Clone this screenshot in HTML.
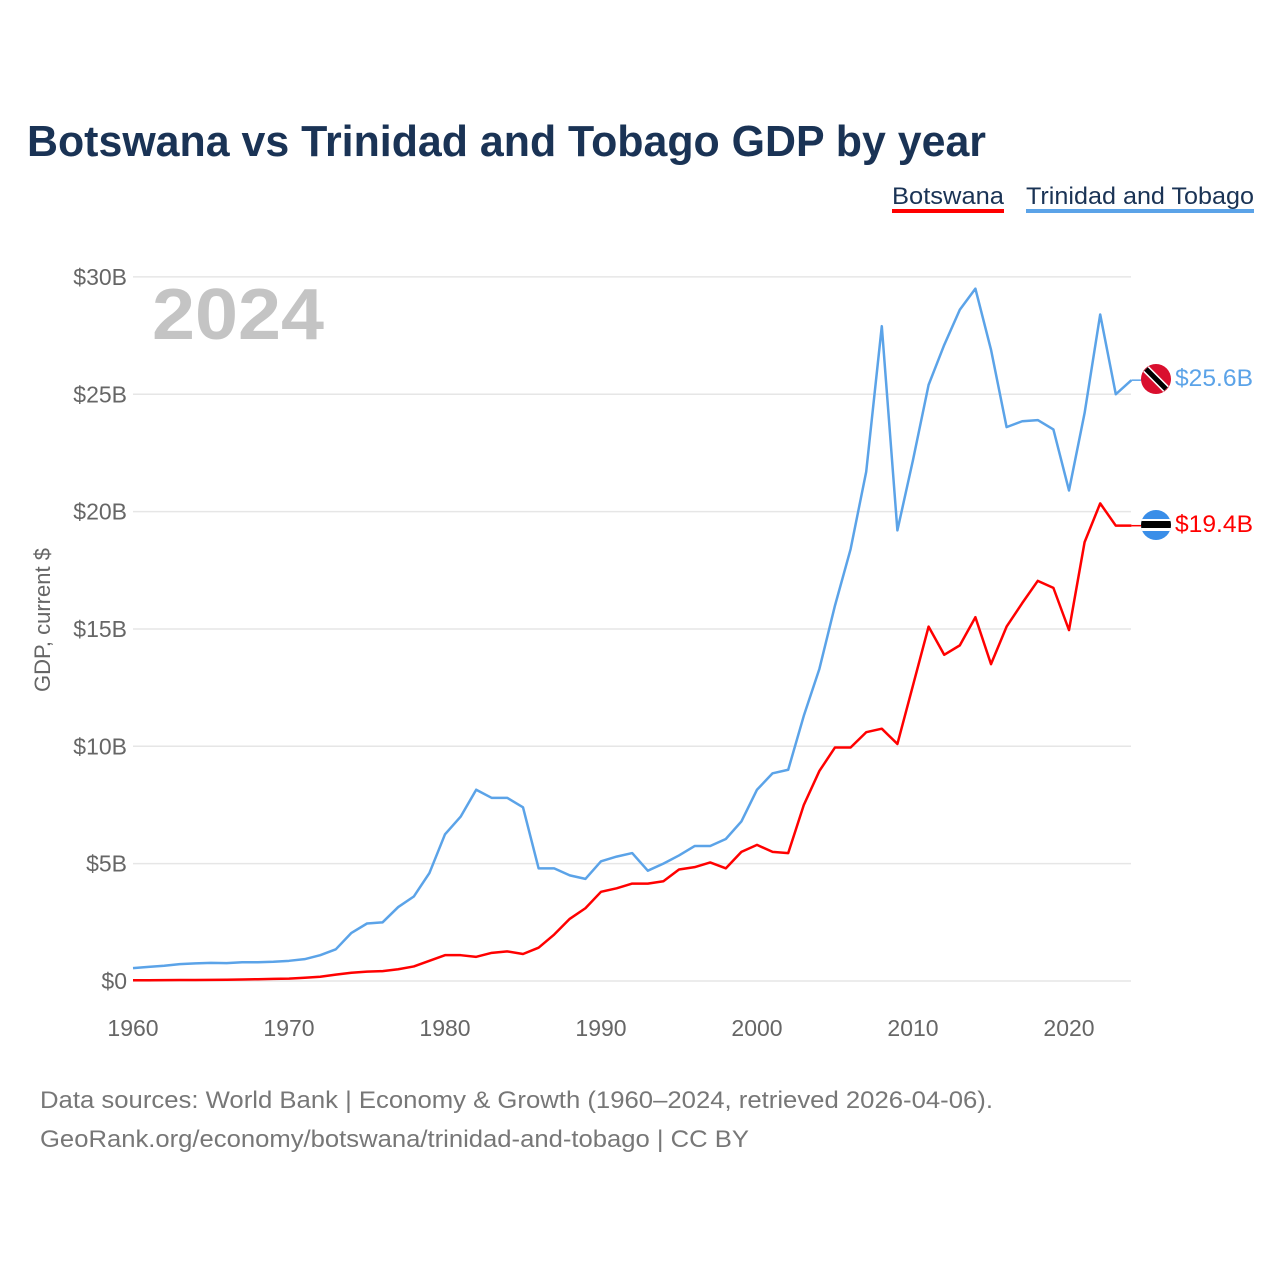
<!DOCTYPE html>
<html><head><meta charset="utf-8"><style>
body{margin:0;background:#fff;font-family:"Liberation Sans",sans-serif}
</style></head><body>
<svg width="1280" height="1280" viewBox="0 0 1280 1280" font-family="Liberation Sans, sans-serif">
<rect width="1280" height="1280" fill="#fff"/>
<text x="27" y="156" font-size="44" font-weight="bold" fill="#1a3355" textLength="959" lengthAdjust="spacingAndGlyphs">Botswana vs Trinidad and Tobago GDP by year</text>
<g>
<text x="892" y="204" font-size="24" fill="#1a3355" textLength="112" lengthAdjust="spacingAndGlyphs">Botswana</text>
<rect x="892" y="209" width="112" height="4" fill="#ff0000"/>
<text x="1026" y="204" font-size="24" fill="#1a3355" textLength="228" lengthAdjust="spacingAndGlyphs">Trinidad and Tobago</text>
<rect x="1026" y="209" width="228" height="4" fill="#5ba3e8"/>
</g>
<text x="152" y="339" font-size="72" font-weight="bold" fill="#c4c4c4" textLength="172" lengthAdjust="spacingAndGlyphs">2024</text>
<text transform="translate(50,620) rotate(-90)" text-anchor="middle" font-size="22" fill="#666">GDP, current $</text>
<g id="grid"></g><g id="xt"></g>
<g id="lines"></g>
<g>
<circle cx="1156" cy="379" r="15" fill="#d90f2e"/>
<line x1="1146" y1="369" x2="1166" y2="389" stroke="#fff" stroke-width="8"/>
<line x1="1146" y1="369" x2="1166" y2="389" stroke="#000" stroke-width="5"/>
<text x="1175" y="386" font-size="24" fill="#5ba3e8" textLength="78" lengthAdjust="spacingAndGlyphs">$25.6B</text>
<clipPath id="bc"><circle cx="1156" cy="525" r="15"/></clipPath>
<g clip-path="url(#bc)"><rect x="1140" y="509" width="32" height="32" fill="#3a8ee8"/><rect x="1140" y="519" width="32" height="12" fill="#fff"/><rect x="1140" y="521" width="32" height="7" fill="#000"/></g>
<text x="1175" y="532" font-size="24" fill="#ff0000" textLength="78" lengthAdjust="spacingAndGlyphs">$19.4B</text>
</g>
<text x="40" y="1108" font-size="24" fill="#777" textLength="953" lengthAdjust="spacingAndGlyphs">Data sources: World Bank | Economy &amp; Growth (1960–2024, retrieved 2026-04-06).</text>
<text x="40" y="1147" font-size="24" fill="#777" textLength="709" lengthAdjust="spacingAndGlyphs">GeoRank.org/economy/botswana/trinidad-and-tobago | CC BY</text>
</svg>
<script>
const years=[];for(let y=1960;y<=2024;y++)years.push(y);
const trinidad=[0.55,0.6,0.65,0.72,0.75,0.77,0.76,0.8,0.8,0.82,0.86,0.93,1.1,1.35,2.05,2.45,2.5,3.15,3.6,4.6,6.25,7.0,8.15,7.8,7.8,7.4,4.8,4.8,4.5,4.35,5.1,5.3,5.45,4.7,5.0,5.35,5.75,5.75,6.05,6.8,8.15,8.85,9.0,11.3,13.3,16.0,18.4,21.7,27.9,19.2,22.2,25.4,27.1,28.6,29.5,26.9,23.6,23.85,23.9,23.5,20.9,24.2,28.4,25.0,25.6];
const botswana=[0.03,0.03,0.035,0.04,0.04,0.05,0.055,0.065,0.075,0.09,0.1,0.14,0.18,0.27,0.35,0.4,0.42,0.5,0.62,0.86,1.1,1.1,1.03,1.2,1.26,1.15,1.42,1.98,2.65,3.1,3.8,3.95,4.15,4.15,4.25,4.75,4.85,5.05,4.8,5.5,5.8,5.5,5.45,7.5,8.95,9.95,9.95,10.6,10.75,10.1,12.6,15.1,13.9,14.3,15.5,13.5,15.1,16.1,17.05,16.75,14.95,18.7,20.35,19.4,19.4];
const yTicks=[0,5,10,15,20,25,30];
const yTickLabels=["$0","$5B","$10B","$15B","$20B","$25B","$30B"];
const xTicks=[1960,1970,1980,1990,2000,2010,2020];
const NS="http://www.w3.org/2000/svg";
const X=y=>133+(y-1960)*15.6, Y=v=>981-v*23.47;
function mk(t,a,p){const e=document.createElementNS(NS,t);for(const k in a)e.setAttribute(k,a[k]);p.appendChild(e);return e;}
const g=document.getElementById('grid');
yTicks.forEach((v,i)=>{
 const l=mk('line',{x1:133,x2:1131,y1:Y(v),y2:Y(v),stroke:'#e6e6e6','stroke-width':1.5},g);
 
 
 const t=mk('text',{x:127,y:Y(v)+8,'text-anchor':'end','font-size':23,fill:'#666'},g);
 t.textContent=yTickLabels[i];
 
 
});
const xt=document.getElementById('xt');
xTicks.forEach(y=>{
 const t=mk('text',{x:X(y),y:1036,'text-anchor':'middle','font-size':23,fill:'#666'},xt);
 t.textContent=y;
 
 
});
const L=document.getElementById('lines');
function line(d,c,n){
 const p=mk('polyline',{points:d.map((v,i)=>X(years[i])+','+Y(v)).join(' '),fill:'none',stroke:c,'stroke-width':2.5,'stroke-linejoin':'round'},L);
 
 
 const last=d[d.length-1];
 mk('line',{x1:X(2024),x2:1141,y1:Y(last),y2:Y(last),stroke:c,'stroke-width':1.5},L);
}
line(trinidad,'#5ba3e8','trinidad-line');
line(botswana,'#ff0000','botswana-line');
</script>
</body></html>
